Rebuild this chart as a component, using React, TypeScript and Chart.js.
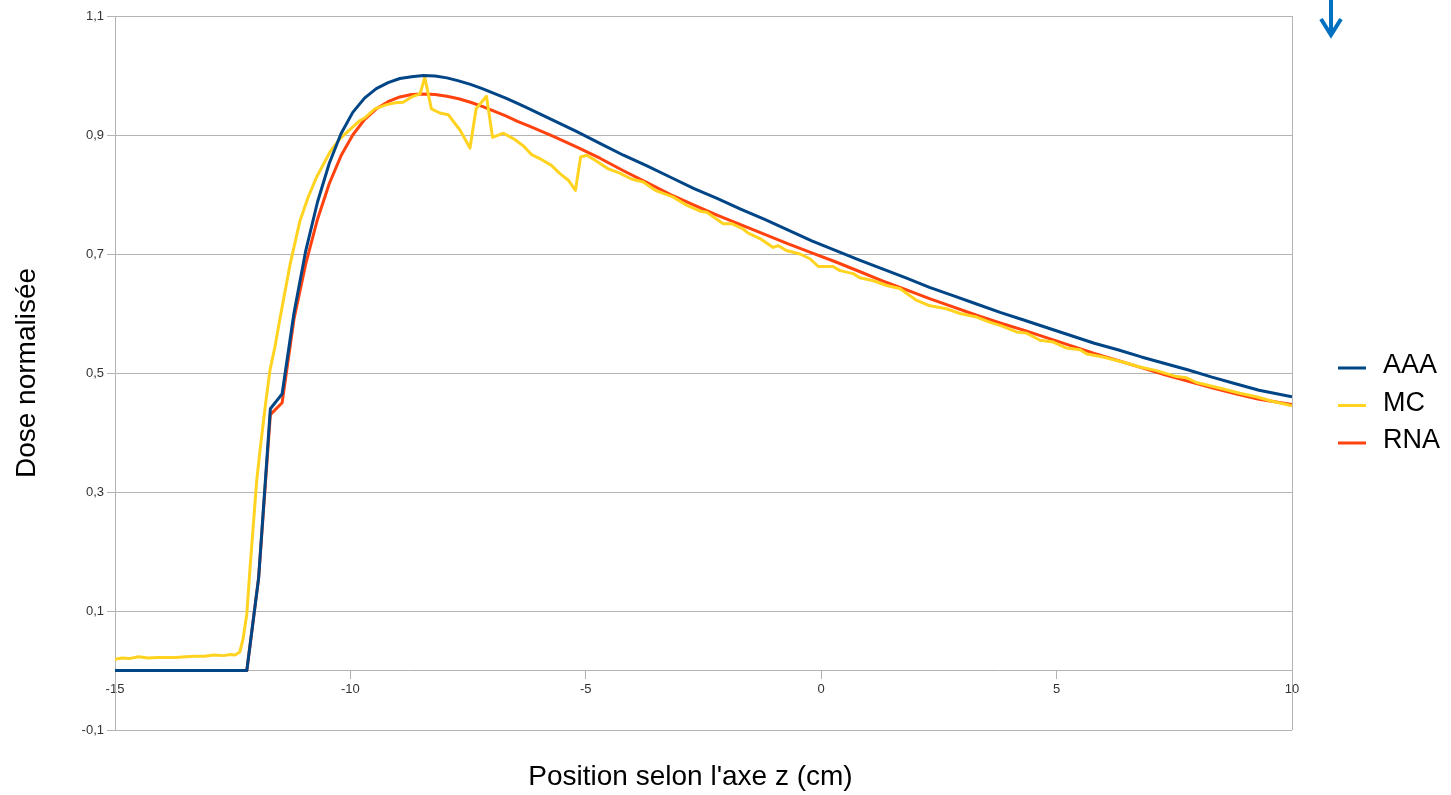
import { useEffect, useRef } from "react";
import { Chart, registerables } from "chart.js";

Chart.register(...registerables);

const seriesNames = ["AAA", "MC", "RNA"];
const seriesColors = ["#004586", "#ffd320", "#ff420e"];
const xTicks = [-15, -10, -5, 0, 5, 10];
const yTicks = [-0.1, 0.1, 0.3, 0.5, 0.7, 0.9, 1.1];
const xTitle = "Position selon l'axe z (cm)";
const yTitle = "Dose normalisée";

const aaaX = [-15, -12.2, -11.95, -11.7, -11.45, -11.2, -10.95, -10.7, -10.45, -10.2, -9.95, -9.7, -9.45, -9.2, -8.95, -8.7, -8.45, -8.2, -7.95, -7.7, -7.45, -7.2, -6.95, -6.7, -6.45, -6.2, -5.7, -5.2, -4.7, -4.2, -3.7, -3.2, -2.7, -2.2, -1.7, -1.2, -0.7, -0.2, 0.3, 0.8, 1.3, 1.8, 2.3, 2.8, 3.3, 3.8, 4.3, 4.8, 5.3, 5.8, 6.3, 6.8, 7.3, 7.8, 8.3, 8.8, 9.3, 10];
const aaaY = [0, 0, 0.155, 0.44, 0.465, 0.6, 0.705, 0.787, 0.852, 0.902, 0.938, 0.962, 0.978, 0.988, 0.995, 0.998, 1.0, 0.999, 0.996, 0.991, 0.985, 0.978, 0.97, 0.962, 0.953, 0.944, 0.925, 0.906, 0.886, 0.866, 0.848, 0.829, 0.81, 0.793, 0.775, 0.758, 0.74, 0.722, 0.706, 0.69, 0.675, 0.66, 0.644, 0.63, 0.616, 0.602, 0.589, 0.576, 0.563, 0.55, 0.539, 0.527, 0.516, 0.505, 0.493, 0.482, 0.471, 0.46];

const rnaX = [-15, -12.2, -11.95, -11.7, -11.45, -11.2, -10.95, -10.7, -10.45, -10.2, -9.95, -9.7, -9.45, -9.2, -8.95, -8.7, -8.45, -8.2, -7.95, -7.7, -7.45, -7.2, -6.95, -6.7, -6.45, -6.2, -5.7, -5.2, -4.7, -4.2, -3.7, -3.2, -2.7, -2.2, -1.7, -1.2, -0.7, -0.2, 0.3, 0.8, 1.3, 1.8, 2.3, 2.8, 3.3, 3.8, 4.3, 4.8, 5.3, 5.8, 6.3, 6.8, 7.3, 7.8, 8.3, 8.8, 9.3, 10];
const rnaY = [0, 0, 0.155, 0.43, 0.45, 0.59, 0.683, 0.758, 0.818, 0.865, 0.9, 0.926, 0.944, 0.956, 0.964, 0.968, 0.969, 0.968, 0.965, 0.961, 0.955, 0.948, 0.94, 0.932, 0.923, 0.915, 0.898, 0.88, 0.861, 0.84, 0.82, 0.8, 0.782, 0.765, 0.749, 0.733, 0.717, 0.702, 0.687, 0.671, 0.655, 0.64, 0.625, 0.611, 0.597, 0.584, 0.572, 0.559, 0.546, 0.533, 0.521, 0.509, 0.497, 0.486, 0.475, 0.465, 0.456, 0.447];

const mcX = [-15, -14.85, -14.7, -14.5, -14.3, -14.1, -13.9, -13.7, -13.5, -13.3, -13.1, -12.9, -12.7, -12.55, -12.45, -12.35, -12.28, -12.2, -12.13, -12.06, -11.99, -11.92, -11.81, -11.71, -11.6, -11.5, -11.28, -11.07, -10.9, -10.72, -10.43, -10.22, -10.0, -9.8, -9.69, -9.48, -9.23, -9.05, -8.88, -8.67, -8.52, -8.42, -8.28, -8.1, -7.92, -7.67, -7.46, -7.33, -7.11, -6.98, -6.75, -6.54, -6.33, -6.15, -5.97, -5.73, -5.55, -5.37, -5.22, -5.11, -4.98, -4.81, -4.52, -4.28, -4.03, -3.78, -3.5, -3.15, -2.86, -2.57, -2.43, -2.08, -1.9, -1.66, -1.55, -1.3, -1.02, -0.91, -0.74, -0.45, -0.24, -0.06, 0.25, 0.4, 0.68, 0.82, 1.11, 1.39, 1.67, 2.03, 2.31, 2.66, 2.95, 3.3, 3.59, 3.8, 4.15, 4.36, 4.65, 4.93, 5.21, 5.5, 5.64, 5.99, 6.42, 6.77, 7.12, 7.55, 7.76, 7.97, 8.54, 8.89, 9.24, 9.6, 10];
const mcY = [0.019, 0.021, 0.02, 0.023, 0.021, 0.022, 0.022, 0.022, 0.023, 0.024, 0.024, 0.026, 0.025, 0.027, 0.026, 0.031, 0.053, 0.095, 0.174, 0.247, 0.319, 0.37, 0.443, 0.504, 0.545, 0.59, 0.683, 0.756, 0.795, 0.829, 0.872, 0.894, 0.91, 0.924, 0.929, 0.944, 0.951, 0.954, 0.955, 0.965, 0.969, 0.997, 0.944, 0.937, 0.934, 0.908, 0.878, 0.944, 0.965, 0.896, 0.903, 0.894, 0.882, 0.867, 0.86, 0.849, 0.835, 0.824, 0.807, 0.863, 0.866, 0.858, 0.843, 0.836, 0.826, 0.821, 0.806, 0.796, 0.782, 0.772, 0.77, 0.751, 0.751, 0.742, 0.735, 0.726, 0.711, 0.714, 0.706, 0.7, 0.692, 0.679, 0.679, 0.672, 0.667, 0.66, 0.655, 0.647, 0.642, 0.622, 0.613, 0.608, 0.6, 0.594, 0.585, 0.58, 0.569, 0.567, 0.555, 0.552, 0.542, 0.539, 0.532, 0.527, 0.518, 0.51, 0.504, 0.494, 0.492, 0.484, 0.473, 0.466, 0.46, 0.452, 0.445];

const seriesX = [aaaX, mcX, rnaX];
const seriesY = [aaaY, mcY, rnaY];

const GRID = "#b3b3b3";
const FONT = "'Liberation Sans', Arial, sans-serif";

const decorPlugin = {
  id: "decor",
  afterDraw(chart: any) {
    const { ctx, chartArea } = chart;
    ctx.save();
    // x axis title
    ctx.fillStyle = "#000";
    ctx.font = `28px ${FONT}`;
    ctx.textAlign = "center";
    ctx.textBaseline = "middle";
    ctx.fillText(xTitle, (chartArea.left + chartArea.right) / 2 - 13, 777);
    // legend
    chart.data.datasets.forEach((ds: any, i: number) => {
      const y = 368 + i * 37.5;
      ctx.strokeStyle = ds.borderColor;
      ctx.lineWidth = 3;
      ctx.beginPath();
      ctx.moveTo(chartArea.right + 46, y);
      ctx.lineTo(chartArea.right + 74, y);
      ctx.stroke();
      ctx.fillStyle = "#000";
      ctx.font = `27px ${FONT}`;
      ctx.textAlign = "left";
      ctx.textBaseline = "middle";
      ctx.fillText(ds.label, chartArea.right + 91, y - 2);
    });
    // blue arrow annotation
    ctx.strokeStyle = "#0070c0";
    ctx.lineWidth = 4;
    ctx.lineCap = "butt";
    ctx.beginPath();
    ctx.moveTo(1331, 0);
    ctx.lineTo(1331, 34);
    ctx.stroke();
    ctx.beginPath();
    ctx.moveTo(1321, 19);
    ctx.lineTo(1331, 35);
    ctx.lineTo(1341, 19);
    ctx.stroke();
    ctx.restore();
  },
};

export default function App() {
  const ref = useRef<HTMLCanvasElement | null>(null);
  useEffect(() => {
    if (!ref.current) return;
    const chart = new Chart(ref.current, {
      type: "line",
      data: {
        datasets: seriesNames.map((name, i) => ({
          label: name,
          data: seriesX[i].map((x, j) => ({ x, y: seriesY[i][j] })),
          borderColor: seriesColors[i],
          backgroundColor: seriesColors[i],
          borderWidth: 3,
          pointRadius: 0,
          tension: 0,
          fill: false,
          borderJoinStyle: "round",
        })),
      },
      options: {
        responsive: false,
        animation: false,
        layout: { padding: { top: 16, right: 159, left: 0, bottom: 65 } },
        plugins: {
          legend: { display: false },
          tooltip: { enabled: false },
          title: { display: false },
        },
        scales: {
          x: {
            type: "linear",
            min: -15,
            max: 10,
            position: { y: 0 },
            afterBuildTicks: (s: any) => {
              s.ticks = xTicks.map((v) => ({ value: v }));
            },
            afterFit: (s: any) => {
              s.height = 0;
            },
            grid: {
              drawOnChartArea: true,
              drawTicks: true,
              tickLength: 8,
              color: (c: any) => (c.tick && c.tick.value === 10 ? GRID : "rgba(0,0,0,0)"),
              tickColor: GRID,
            },
            border: { display: true, color: GRID },
            ticks: {
              color: "#333",
              font: { family: FONT, size: 13 },
              padding: 3,
              maxRotation: 0,
              callback: (v: any) => String(v),
            },
          },
          y: {
            type: "linear",
            min: -0.1,
            max: 1.1,
            afterBuildTicks: (s: any) => {
              s.ticks = yTicks.map((v) => ({ value: v }));
            },
            afterFit: (s: any) => {
              s.width = 115;
            },
            grid: { color: GRID, tickLength: 8, tickColor: GRID },
            border: { display: true, color: GRID },
            ticks: {
              color: "#333",
              font: { family: FONT, size: 13 },
              padding: 3,
              callback: (v: any) => Number(v).toFixed(1).replace(".", ","),
            },
            title: {
              display: true,
              text: yTitle,
              color: "#000",
              font: { family: FONT, size: 28 },
              padding: { top: 10, bottom: 0 },
            },
          },
        },
      },
      plugins: [decorPlugin],
    });
    return () => chart.destroy();
  }, []);
  return (
    <div style={{ position: "absolute", left: 0, top: 0, width: 1451, height: 795, background: "#fff" }}>
      <canvas ref={ref} width={1451} height={795} style={{ display: "block" }} />
    </div>
  );
}
